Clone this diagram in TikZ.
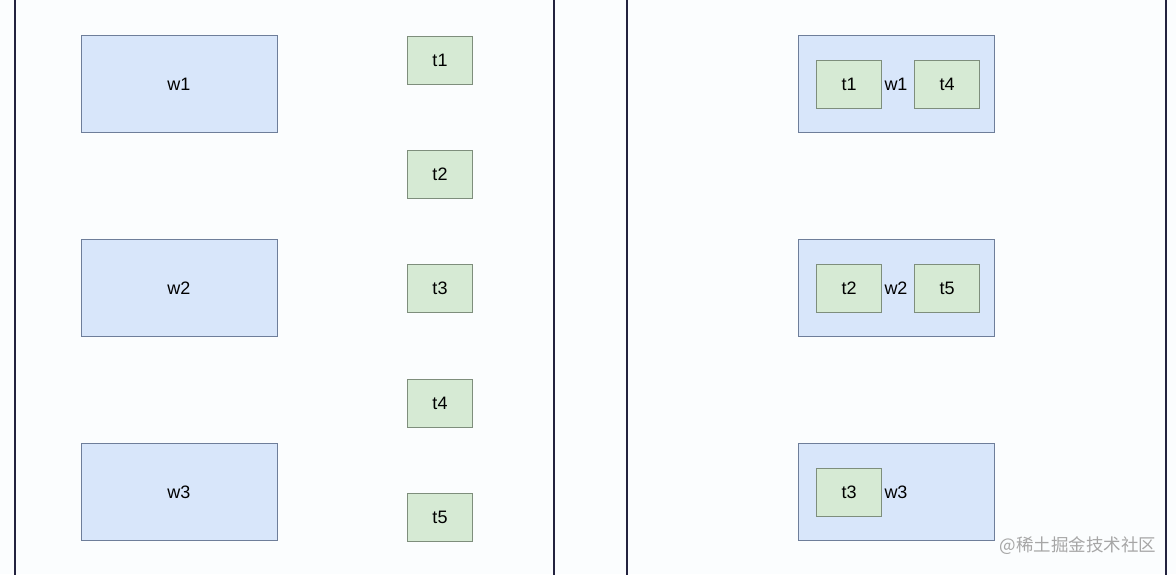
\documentclass[tikz,border=0pt]{standalone}
\usepackage{fontspec}
\setmainfont{Liberation Sans}
\newfontfamily\cjkfont{Noto Sans CJK SC}
\usetikzlibrary{positioning}
\definecolor{wfill}{HTML}{D8E6FA}
\definecolor{wline}{HTML}{6E7E9A}
\definecolor{tfill}{HTML}{D6EAD4}
\definecolor{tline}{HTML}{7E8E7C}
\definecolor{frame}{HTML}{23233F}
\definecolor{paper}{HTML}{FBFDFE}
\tikzset{
  every picture/.style={font=\fontsize{18}{20}\selectfont, line width=1pt},
  wbox/.style={draw=wline, fill=wfill, minimum width=196pt, minimum height=97pt, inner sep=0pt},
  tbox/.style={draw=tline, fill=tfill, minimum width=65pt, minimum height=48pt, inner sep=0pt},
  panel/.style={draw=frame, line width=2pt},
  watermark/.style={text=black!35, font=\cjkfont\fontsize{17.5}{19}\selectfont, inner sep=0pt}
}

\begin{document}
\begin{tikzpicture}[x=1pt, y=-1pt]
  \useasboundingbox[fill=paper] (0,0) rectangle (1176,574);
  % panel borders
  \draw[panel] (15,-5) -- (15,580);
  \draw[panel] (554,-5) -- (554,580);
  \draw[panel] (627,-5) -- (627,580);
  \draw[panel] (1166,-5) -- (1166,580);
  % before: workers and tasks apart
  \node[wbox] (w1) at (179,84) {w1};
  \node[wbox] (w2) at (179,288) {w2};
  \node[wbox] (w3) at (179,492) {w3};
  \node[tbox] (t1) at (440,60) {t1};
  \node[tbox] (t2) at (440,174) {t2};
  \node[tbox] (t3) at (440,288) {t3};
  \node[tbox] (t4) at (440,403) {t4};
  \node[tbox] (t5) at (440,517) {t5};
  % after: tasks placed in workers
  \node[wbox] (rw1) at (896,84) {w1};
  \node[wbox] (rw2) at (896,288) {w2};
  \node[wbox] (rw3) at (896,492) {w3};
  \node[tbox] (rt1) at (849,84) {t1};
  \node[tbox] (rt4) at (947,84) {t4};
  \node[tbox] (rt2) at (849,288) {t2};
  \node[tbox] (rt5) at (947,288) {t5};
  \node[tbox] (rt3) at (849,492) {t3};
  \node[watermark] (wm) at (1078,546) {@稀土掘金技术社区};
\end{tikzpicture}
\end{document}
